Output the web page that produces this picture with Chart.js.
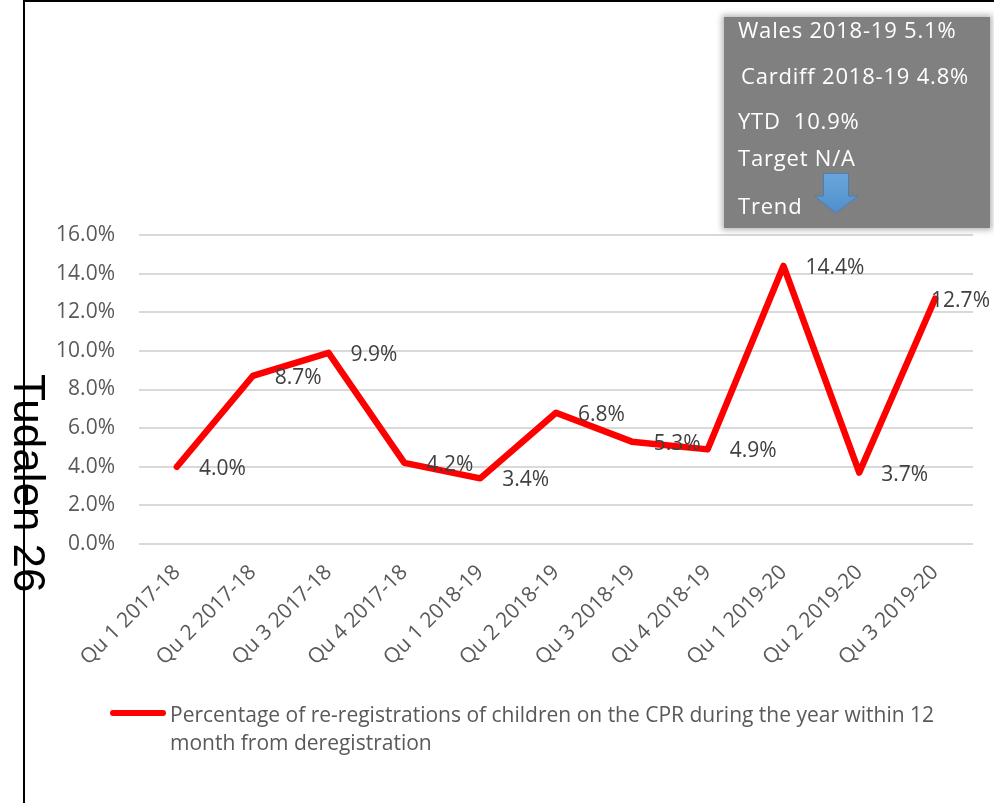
<!DOCTYPE html>
<html lang="en">
<head>
<meta charset="UTF-8">
<title>Re-registrations on the CPR</title>
<script src="https://cdn.jsdelivr.net/npm/chart.js@4.4.1/dist/chart.umd.min.js"></script>
<style>
  body { margin: 0; background: #fff; }
  #page { position: relative; width: 994px; height: 803px; overflow: hidden; font-family: 'Open Sans', sans-serif; }
  #chart { position: absolute; left: 0; top: 0; }
  .edge { position: absolute; background: #000; }
  #tudalen {
    position: absolute; left: 7px; top: 374px;
    writing-mode: vertical-rl; font: 44px/44px 'Liberation Sans', Arial, sans-serif; color: #000;
  }
  #info {
    position: absolute; left: 724px; top: 17px; width: 266px; height: 211px;
    background: #808080; box-shadow: 0 0 6px 2px rgba(0,0,0,0.3);
    color: #fff; font-size: 22px; line-height: 28px; letter-spacing: 0.8px;
  }
  #info div { position: absolute; white-space: pre; }
  #legend { position: absolute; left: 110px; top: 700px; }
  #legend .swatch { position: absolute; left: 0; top: 10px; width: 56px; height: 6px; border-radius: 3px; background: #ff0000; }
  #legend .text { position: absolute; left: 60px; top: 0; width: 790px; font-size: 21px; line-height: 28px; color: #595959; }
</style>
</head>
<body>
<div id="page">
  <canvas id="chart" width="994" height="803"></canvas>

  <div id="tudalen">Tudalen 26</div>
  <div class="edge" style="left:23px; top:0; width:2px; height:803px;"></div>
  <div class="edge" style="left:23px; top:0; width:971px; height:1.5px;"></div>

  <!-- summary box top right -->
  <div id="info">
    <div style="left:14px; top:-2px;">Wales 2018-19 5.1%</div>
    <div style="left:17px; top:44px;">Cardiff 2018-19 4.8%</div>
    <div style="left:14px; top:89px;">YTD  10.9%</div>
    <div style="left:14px; top:126px;">Target N/A</div>
    <div style="left:14px; top:174px;">Trend</div>
  </div>
  <svg style="position:absolute; left:0; top:0;" width="994" height="240">
    <defs>
      <linearGradient id="blue" x1="0" y1="0" x2="0" y2="1">
        <stop offset="0" stop-color="#6aa6dc"/>
        <stop offset="1" stop-color="#4f8fcc"/>
      </linearGradient>
    </defs>
    <path d="M823.5 173.5 H848.5 V196 H858 L836 213 L814.5 196 H823.5 Z" fill="url(#blue)" stroke="#4a7fb5" stroke-width="1"/>
  </svg>

  <div id="legend">
    <div class="swatch"></div>
    <div class="text" id="legendText"></div>
  </div>
</div>

<script>
// chart data
const quarters = ['Qu 1 2017-18', 'Qu 2 2017-18', 'Qu 3 2017-18', 'Qu 4 2017-18',
                  'Qu 1 2018-19', 'Qu 2 2018-19', 'Qu 3 2018-19', 'Qu 4 2018-19',
                  'Qu 1 2019-20', 'Qu 2 2019-20', 'Qu 3 2019-20'];
const reRegistrations = [4.0, 8.7, 9.9, 4.2, 3.4, 6.8, 5.3, 4.9, 14.4, 3.7, 12.7];
const yMin = 0, yMax = 16, yStep = 2;
const seriesName = 'Percentage of re-registrations of children on the CPR during the year within 12 month from deregistration';

document.getElementById('legendText').textContent = seriesName;

Chart.defaults.font.family = "'Open Sans', sans-serif";

// value labels next to each point
const pointLabels = {
    id: 'pointLabels',
    afterDatasetsDraw(chart) {
        const ctx = chart.ctx;
        const pts = chart.getDatasetMeta(0).data;
        ctx.save();
        ctx.font = "21px 'Open Sans'";
        ctx.fillStyle = '#404040';
        ctx.textBaseline = 'middle';
        pts.forEach((pt, i) => {
            const dx = i === pts.length - 1 ? -4 : 22; // last one sits on the line end
            ctx.fillText(reRegistrations[i].toFixed(1) + '%', pt.x + dx, pt.y + 2);
        });
        ctx.restore();
    }
};

new Chart(document.getElementById('chart'), {
    type: 'line',
    data: {
        labels: quarters,
        datasets: [{
            label: seriesName,
            data: reRegistrations,
            borderColor: '#ff0000',
            borderWidth: 6.5,
            borderCapStyle: 'round',
            borderJoinStyle: 'round',
            pointRadius: 0,
            tension: 0,
            fill: false
        }]
    },
    options: {
        responsive: false,
        animation: false,
        devicePixelRatio: 1,
        layout: { padding: { top: 235, right: 21, bottom: 0, left: 0 } },
        plugins: {
            legend: { display: false },
            tooltip: { enabled: false }
        },
        scales: {
            x: {
                offset: true,
                grid: { display: false },
                border: { display: false },
                ticks: {
                    autoSkip: false,
                    minRotation: 45,
                    maxRotation: 45,
                    padding: 8,
                    color: '#595959',
                    font: { size: 21 }
                },
                afterFit: s => { s.height = 803 - 544; }
            },
            y: {
                min: yMin,
                max: yMax,
                grid: { color: '#d9d9d9', lineWidth: 2, drawTicks: false },
                border: { display: false },
                ticks: {
                    stepSize: yStep,
                    padding: 24,
                    color: '#595959',
                    font: { size: 21 },
                    callback: v => v.toFixed(1) + '%'
                },
                afterFit: s => { s.width = 139; }
            }
        }
    },
    plugins: [pointLabels]
});
</script>
</body>
</html>
